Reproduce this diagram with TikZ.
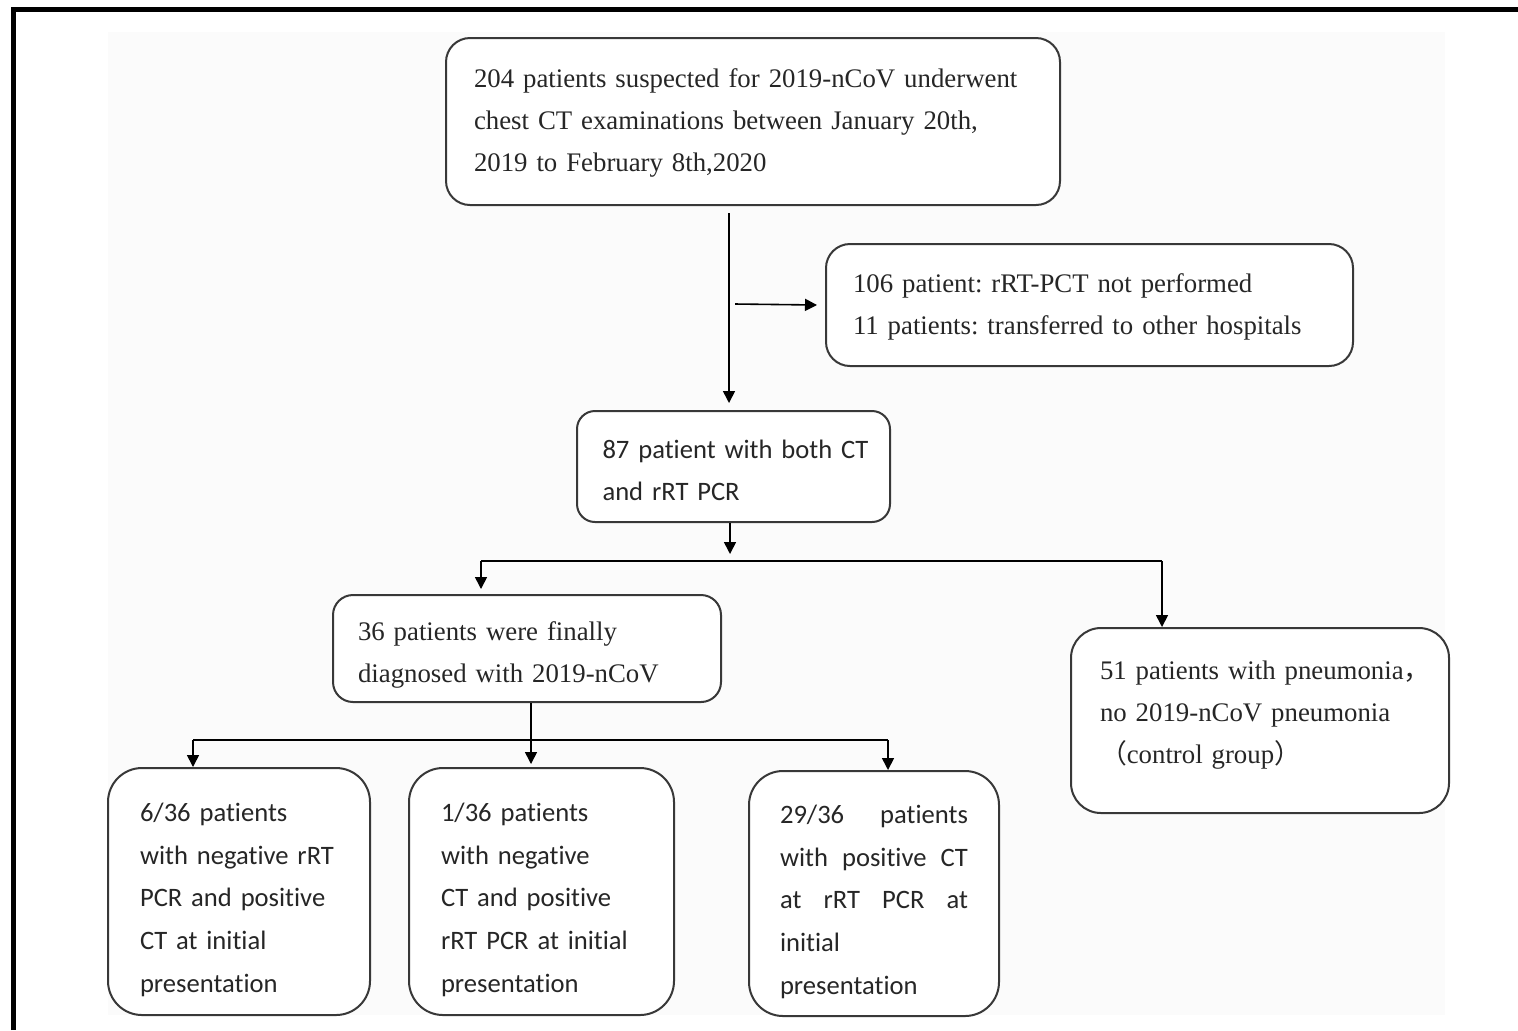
\documentclass[tikz,border=0pt]{standalone}
\usepackage{fontspec}
\setmainfont{Liberation Serif}
\newfontfamily\calib[Ligatures=NoCommon]{Carlito}
\newfontfamily\cjk{Noto Sans CJK SC}
\usetikzlibrary{arrows.meta}
\frenchspacing
\newcommand\jline[1]{\leavevmode\hbox to 94pt{#1}}
\begin{document}
\begin{tikzpicture}[x=0.5pt,y=-0.5pt,
  box/.style={draw=black!78, line width=1pt, rounded corners=12pt, fill=white,
    align=left, inner xsep=0pt, inner ysep=0pt, text=black!85},
  tdown/.style={execute at begin node={\rule{0pt}{#1}}},
  sbox/.style={box, font=\fontsize{13.4}{21}\selectfont},
  cbox/.style={box, font=\calib\fontsize{13.3}{21}\selectfont},
  lowbox/.style={box, font=\calib\fontsize{13.3}{21.4}\selectfont, rounded corners=17pt, tdown=17.5pt},
  arr/.style={draw=black, line width=0.8pt, -{Triangle[length=6pt,width=6pt]}},
  ln/.style={draw=black, line width=0.8pt}]
\useasboundingbox (0,0) rectangle (1518,1030);
\fill[black!1.5] (108,32) rectangle (1445,1015);
\draw[line width=2.5pt] (13.5,1030) -- (13.5,9.5) -- (1518,9.5);

\node[sbox, tdown=11.2pt, minimum width=307pt, minimum height=83.5pt, text width=279pt] (top) at (753,121.5)
  {\mbox{204 patients suspected for 2019-nCoV underwent}\\\mbox{chest CT examinations between January 20th,}\\\mbox{2019 to February 8th,2020}};
\node[sbox, tdown=11.7pt, minimum width=263.5pt, minimum height=61pt, text width=236.5pt] (excl) at (1089.5,305)
  {\mbox{106 patient: rRT-PCT not performed}\\\mbox{11 patients: transferred to other hospitals}};
\node[cbox, tdown=13.3pt, rounded corners=9pt, minimum width=156.5pt, minimum height=55.5pt, text width=131pt] (p87) at (733.5,466.5)
  {\mbox{87 patient with both CT}\\\mbox{and rRT PCR}};
\node[sbox, tdown=16.3pt, rounded corners=10pt, minimum width=194pt, minimum height=53.5pt, text width=169pt] (d36) at (527,648.5)
  {\mbox{36 patients were finally}\\\mbox{diagnosed with 2019-nCoV}};
\node[sbox, tdown=11.8pt, rounded corners=15pt, minimum width=189pt, minimum height=92.5pt, text width=160pt] (c51) at (1260,720.5)
  {\mbox{51 patients with pneumonia{\cjk ，}}\\\mbox{no 2019-nCoV pneumonia}\\\mbox{{\cjk （}control group{\cjk ）}}\\[-10pt]\mbox{}};
\node[lowbox, minimum width=131pt, minimum height=123.5pt, text width=99pt] (b1) at (239,891.5)
  {\mbox{6/36 patients}\\\mbox{with negative rRT}\\\mbox{PCR and positive}\\\mbox{CT at initial}\\\mbox{presentation}};
\node[lowbox, minimum width=132.5pt, minimum height=123.5pt, text width=100.5pt] (b2) at (541.5,891.5)
  {\mbox{1/36 patients}\\\mbox{with negative}\\\mbox{CT and positive}\\\mbox{rRT PCR at initial}\\\mbox{presentation}};
\node[lowbox, minimum width=125pt, minimum height=122.5pt, text width=94pt] (b3) at (874,893.5)
  {\jline{29/36\hfill patients}\\\jline{with\hfill positive\hfill CT}\\\jline{at\hfill rRT\hfill PCR\hfill at}\\\mbox{initial}\\\mbox{presentation}};

\coordinate (x1) at (729,0);
\draw[arr] ([yshift=-3.5pt]top.south -| x1) -- ([yshift=3.5pt]p87.north -| x1);
\coordinate (br) at (735,304);
\draw[arr] (br) -- ([xshift=-4pt]excl.west);

\coordinate (x2) at (730,0);
\draw[arr] (p87.south -| x2) -- ++(0,31);
\coordinate (h1) at (481,561);
\coordinate (h2) at (1162,561);
\draw[ln] (h1) -- (h2);
\draw[arr] (h1) -- ([yshift=2.5pt]d36.north -| h1);
\draw[arr] (h2) -- (c51.north -| h2);

\coordinate (x3) at (531,0);
\draw[arr] (d36.south -| x3) -- ([yshift=1.5pt]b2.north -| x3);
\coordinate (h3) at (193,740);
\coordinate (h4) at (888,740);
\draw[ln] (h3) -- (h4);
\draw[arr] (h3) -- (b1.north -| h3);
\draw[arr] (h4) -- (b3.north -| h4);
\end{tikzpicture}
\end{document}
